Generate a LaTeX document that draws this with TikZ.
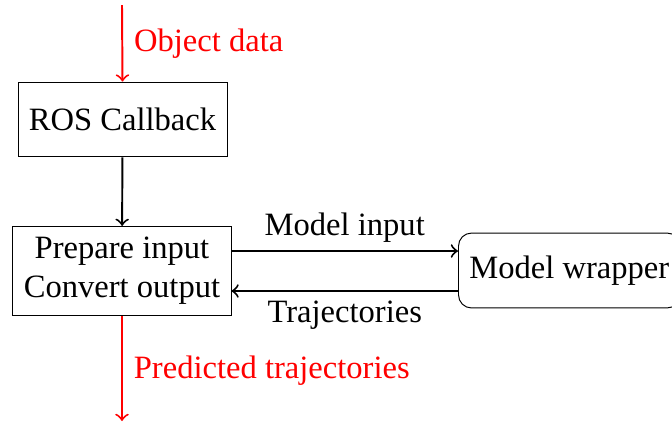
\documentclass[tikz,border=0pt]{standalone}
\usepackage{fontspec}
\setmainfont{Liberation Serif}
\begin{document}
\begin{tikzpicture}[x=0.307pt,y=-0.307pt,
  box/.style={draw, line width=0.3pt, minimum height=23pt, align=center},
  rbox/.style={box, rounded corners=4pt},
  link/.style={->, semithick},
  redlink/.style={->, semithick, red}]
\useasboundingbox (0,0) rectangle (672,421);
\clip (0,0) rectangle (672,421);
\node[box] (ros) at (122.5,119.5) {ROS Callback};
\node[box] (prep) at (122,271) {Prepare input\\Convert output};
\node[rbox, anchor=west] (model) at (458,270.5) {Model wrapper};
\coordinate (top) at (122,5);
\coordinate (bot) at (122,421);
\draw[redlink] (top) -- (ros.north) node[pos=0.5, right=0pt, text=red] (objlbl) {Object data};
\draw[link] (ros) -- (prep);
\draw[link] (prep.east |- 0,251) -- node[above=-1pt] (milbl) {Model input} (model.west |- 0,251);
\draw[link] (model.west |- 0,291) -- node[below=-0.5pt] (trlbl) {Trajectories} (prep.east |- 0,291);
\draw[redlink] (prep.south) -- (bot) node[pos=0.517, right=0pt, text=red] (predlbl) {Predicted trajectories};
\end{tikzpicture}
\end{document}
